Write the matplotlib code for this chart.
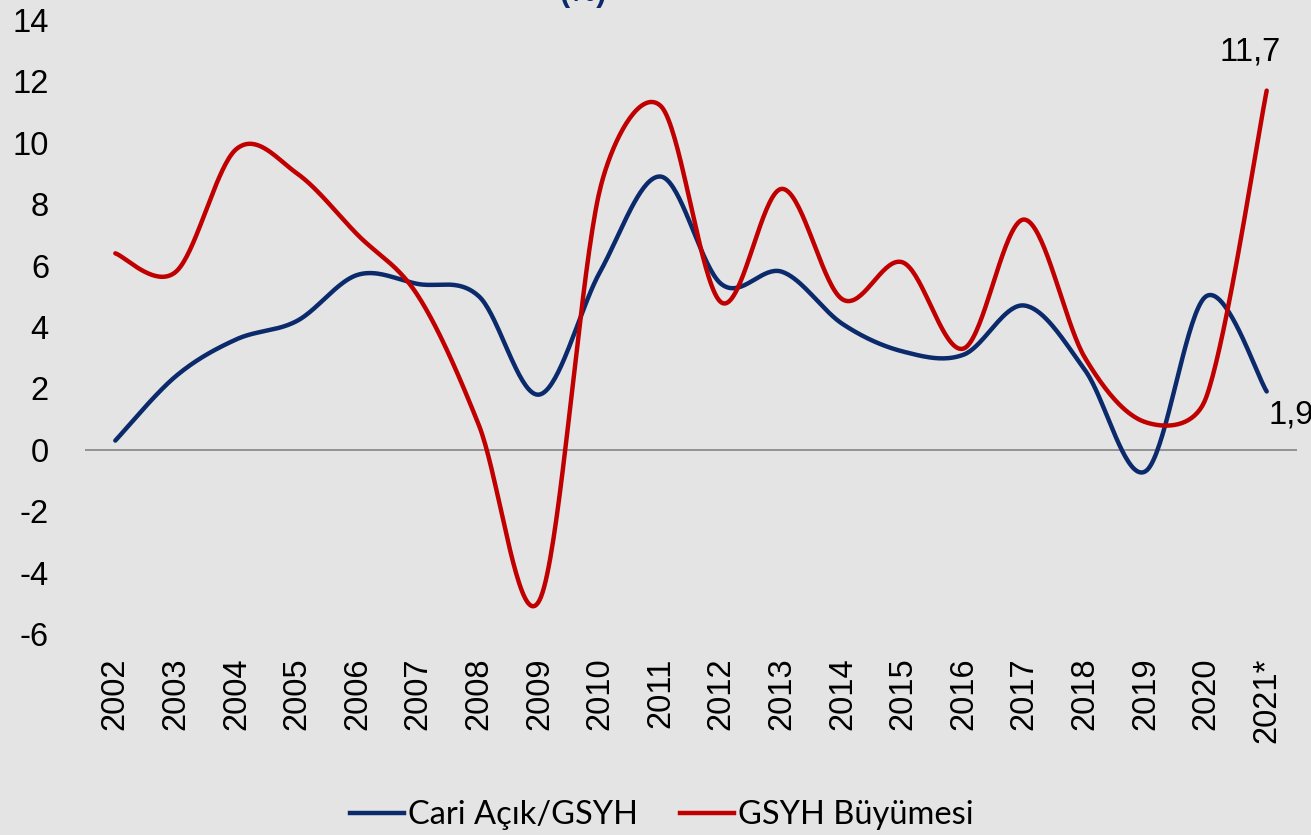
import numpy as np
import matplotlib
matplotlib.use("Agg")
import matplotlib.pyplot as plt
from matplotlib.lines import Line2D

years = ["2002", "2003", "2004", "2005", "2006", "2007", "2008", "2009", "2010", "2011",
         "2012", "2013", "2014", "2015", "2016", "2017", "2018", "2019", "2020", "2021*"]
cari_acik = [0.3, 2.4, 3.6, 4.2, 5.7, 5.4, 5.0, 1.8, 5.8, 8.9,
             5.4, 5.8, 4.1, 3.2, 3.1, 4.7, 2.6, -0.7, 5.0, 1.9]
gsyh_buyume = [6.4, 5.8, 9.8, 9.0, 7.0, 5.0, 0.8, -4.9, 8.5, 11.2,
               4.8, 8.5, 4.9, 6.1, 3.3, 7.5, 3.0, 0.9, 1.7, 11.7]
yticks = [-6, -4, -2, 0, 2, 4, 6, 8, 10, 12, 14]
series_names = ["Cari Açık/GSYH", "GSYH Büyümesi"]
colors = ["#0b2a6b", "#c00000"]

BG = "#e4e4e4"
SX, SY = 60.6, 30.7  # approx pixels per unit, used only for Excel-like smoothing distances


def smooth(xs, ys, n=40):
    P = np.column_stack([np.asarray(xs, float) * SX, np.asarray(ys, float) * SY])
    m = len(P)
    out = []
    for i in range(m - 1):
        p0 = P[i - 1] if i > 0 else P[i]
        p1 = P[i]
        p2 = P[i + 1]
        p3 = P[i + 2] if i + 2 < m else P[i + 1]
        d02 = np.linalg.norm(p2 - p0)
        d12 = np.linalg.norm(p2 - p1)
        d13 = np.linalg.norm(p3 - p1)
        f = 1 / 6 if d02 / 6 < d12 / 2 else d12 / (2 * d02)
        g = 1 / 6 if d13 / 6 < d12 / 2 else d12 / (2 * d13)
        c1 = p1 + f * (p2 - p0)
        c2 = p2 - g * (p3 - p1)
        t = np.linspace(0, 1, n)[:, None]
        seg = ((1 - t) ** 3) * p1 + 3 * ((1 - t) ** 2) * t * c1 + 3 * (1 - t) * t ** 2 * c2 + t ** 3 * p2
        if i > 0:
            seg = seg[1:]
        out.append(seg)
    out = np.vstack(out)
    return out[:, 0] / SX, out[:, 1] / SY


fig = plt.figure(figsize=(13.11, 8.35), dpi=100)
fig.patch.set_facecolor(BG)
ax = fig.add_axes([85 / 1311, 1 - 634 / 835, 1212 / 1311, 614 / 835])
ax.set_facecolor(BG)

x = np.arange(len(years))
ax.axhline(0, color="#8c8c8c", lw=1.3, zorder=1)
for vals, c in zip([cari_acik, gsyh_buyume], colors):
    sx, sy = smooth(x, vals)
    ax.plot(sx, sy, color=c, lw=3.2, solid_capstyle="round", zorder=3)

ax.set_xlim(-0.5, len(years) - 0.5)
ax.set_ylim(-6, 14)
ax.set_yticks(yticks)
ax.set_yticklabels([str(v) for v in yticks], fontsize=23.5, family="Liberation Sans")
ax.set_xticks(x)
ax.set_xticklabels(years, rotation=90, fontsize=23.5, family="Liberation Sans")
ax.tick_params(axis="y", length=0, pad=26)
ax.tick_params(axis="x", length=0, pad=17)
for s in ax.spines.values():
    s.set_visible(False)

ax.text(x[-1] - 0.28, gsyh_buyume[-1] + 0.75, f"{gsyh_buyume[-1]:.1f}".replace(".", ","),
        fontsize=23.5, family="Liberation Sans", ha="center", va="bottom")
ax.text(x[-1] + 0.4, cari_acik[-1] - 0.25, f"{cari_acik[-1]:.1f}".replace(".", ","),
        fontsize=23.5, family="Liberation Sans", ha="center", va="top", clip_on=False)

fig.text(583 / 1311, 1 - 1 / 835, "(%)", fontsize=22, fontweight="bold", color="#0b2a6b",
         ha="center", va="baseline", family="Liberation Sans")

handles = [Line2D([0], [0], color=c, lw=3.2) for c in colors]
leg = fig.legend(handles, series_names, loc="center", bbox_to_anchor=(662 / 1311, 1 - 815 / 835),
                 ncol=2, frameon=False, prop={"family": "Lato", "size": 23.5},
                 handlelength=1.65, handletextpad=0.12, columnspacing=1.3)

fig.savefig("out.png", dpi=100, facecolor=BG)
